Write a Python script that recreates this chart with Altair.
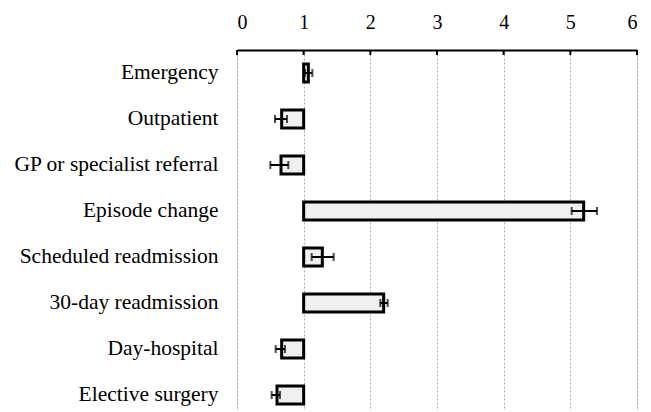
import altair as alt
import pandas as pd

categories = ["Emergency", "Outpatient", "GP or specialist referral", "Episode change",
              "Scheduled readmission", "30-day readmission", "Day-hospital", "Elective surgery"]
values = [1.07, 0.67, 0.66, 5.2, 1.28, 2.2, 0.67, 0.6]
lower = [1.02, 0.57, 0.50, 5.02, 1.12, 2.15, 0.58, 0.52]
upper = [1.13, 0.75, 0.77, 5.40, 1.45, 2.26, 0.72, 0.645]
reference_value = 1
tick_values = [0, 1, 2, 3, 4, 5, 6]

df = pd.DataFrame({"cat": categories, "value": values, "lo": lower, "hi": upper})
tdf = pd.DataFrame({"t": tick_values})

FONT = "Liberation Serif"
xs = alt.Scale(domain=[0, 6], nice=False, zero=False)
ys = alt.Scale(domain=categories, range=[0, 368], paddingInner=0, paddingOuter=0)

x_axis = alt.Axis(orient="top", values=tick_values, format="d", ticks=False, labelPadding=18,
                  labelFont=FONT, labelFontSize=20, labelColor="black",
                  domainColor="black", domainWidth=2,
                  grid=True, gridColor="#aaaaaa", gridDash=[2, 2], gridWidth=1, title=None)
y_axis = alt.Axis(domain=False, ticks=False, labelPadding=19, labelFont=FONT,
                  labelFontSize=21.5, labelColor="black", title=None, grid=False,
                  labelLimit=300)

bars = alt.Chart(df).mark_bar(size=18, fill="#efefef", stroke="black", strokeWidth=3).encode(
    x=alt.X("value:Q", scale=xs, axis=x_axis),
    x2=alt.datum(reference_value),
    y=alt.Y("cat:N", sort=categories, scale=ys, axis=y_axis),
)

err = alt.Chart(df).mark_errorbar(ticks=True, color="black", thickness=2, size=8).encode(
    x=alt.X("lo:Q", scale=xs, title=None),
    x2="hi:Q",
    y=alt.Y("cat:N", sort=categories, scale=ys, title=None),
)

tk = alt.Chart(tdf).mark_rule(color="black", strokeWidth=2).encode(
    x=alt.X("t:Q", scale=xs, title=None),
    y=alt.value(0),
    y2=alt.value(5),
)

chart = alt.layer(bars, err, tk).properties(
    width=400, height=360,
    autosize=alt.AutoSizeParams(type="none"),
    padding={"left": 229, "top": 42, "right": 6, "bottom": 0},
).configure_view(stroke=None).configure(background="white")

chart.save("out.html", embed_options={"renderer": "svg", "actions": False})
